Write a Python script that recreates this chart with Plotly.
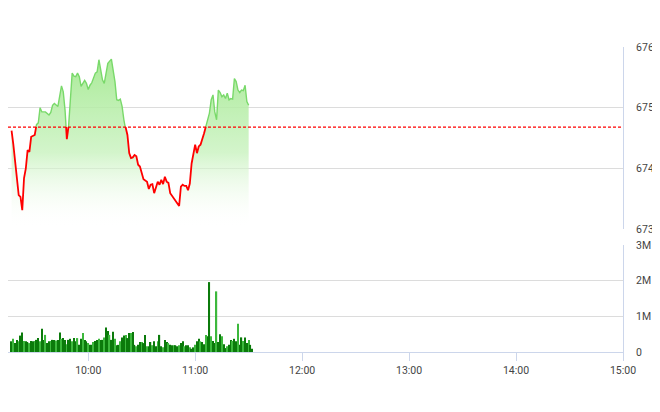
import plotly.graph_objects as go
import pandas as pd

DAY = "2024-01-02 "

# ---- price series (index value, by time) ----
price_times = [
    "09:17", "09:18", "09:21", "09:22", "09:23", "09:24", "09:25", "09:26", "09:27", "09:28",
    "09:30", "09:31", "09:32", "09:33", "09:34", "09:36", "09:37", "09:38", "09:39", "09:40",
    "09:41", "09:42", "09:43", "09:45", "09:46", "09:47", "09:48", "09:49", "09:50", "09:51",
    "09:52", "09:53", "09:54", "09:55", "09:56", "09:57", "09:58", "09:59", "10:00", "10:01",
    "10:02", "10:04", "10:05", "10:06", "10:07", "10:08", "10:09", "10:10", "10:11", "10:13",
    "10:14", "10:15", "10:16", "10:17", "10:18", "10:19", "10:20", "10:21", "10:22", "10:23",
    "10:24", "10:25", "10:26", "10:27", "10:28", "10:29", "10:30", "10:31", "10:33", "10:34",
    "10:35", "10:36", "10:37", "10:38", "10:39", "10:40", "10:41", "10:42", "10:43", "10:44",
    "10:45", "10:46", "10:48", "10:49", "10:50", "10:51", "10:52", "10:53", "10:54", "10:55",
    "10:56", "10:57", "10:58", "10:59", "11:00", "11:01", "11:02", "11:03", "11:04", "11:05",
    "11:06", "11:08", "11:09", "11:10", "11:11", "11:12", "11:13", "11:14", "11:15", "11:16",
    "11:17", "11:18", "11:19", "11:20", "11:21", "11:22", "11:23", "11:24", "11:25", "11:26",
    "11:27", "11:28", "11:29", "11:30",
]
price_values = [
    674.62, 674.39, 673.56, 673.53, 673.31, 673.84, 674.00, 674.30, 674.27, 674.52,
    674.55, 674.72, 674.75, 675.00, 674.93, 674.93, 674.91, 674.88, 674.92, 675.04,
    675.07, 675.04, 675.02, 675.36, 675.26, 674.96, 674.48, 674.70, 675.07, 675.57,
    675.52, 675.51, 675.57, 675.51, 675.35, 675.40, 675.45, 675.40, 675.30, 675.37,
    675.41, 675.57, 675.59, 675.79, 675.59, 675.46, 675.40, 675.59, 675.73, 675.80,
    675.62, 675.43, 675.13, 675.12, 675.14, 675.02, 674.80, 674.68, 674.55, 674.25,
    674.17, 674.18, 674.22, 674.20, 674.06, 674.03, 673.92, 673.82, 673.78, 673.66,
    673.73, 673.74, 673.59, 673.70, 673.78, 673.73, 673.81, 673.74, 673.86, 673.78,
    673.76, 673.59, 673.51, 673.45, 673.42, 673.38, 673.70, 673.73, 673.71, 673.71,
    673.64, 673.75, 674.08, 674.22, 674.39, 674.25, 674.36, 674.39, 674.47, 674.58,
    674.69, 674.91, 675.13, 675.21, 674.93, 674.80, 675.29, 675.25, 675.18, 675.21,
    675.15, 675.24, 675.13, 675.15, 675.14, 675.48, 675.43, 675.29, 675.25, 675.29,
    675.28, 675.37, 675.10, 675.04,
]
reference_price = 674.68

# ---- volume (millions of shares per minute, starting 09:17) ----
volume_start = "09:17"
volume_millions = [
    0.30, 0.37, 0.25, 0.34, 0.30, 0.46, 0.55, 0.31, 0.30, 0.28,
    0.25, 0.31, 0.30, 0.31, 0.34, 0.39, 0.30, 0.65, 0.34, 0.48,
    0.25, 0.30, 0.31, 0.34, 0.34, 0.32, 0.34, 0.55, 0.37, 0.39,
    0.34, 0.22, 0.34, 0.37, 0.30, 0.39, 0.30, 0.39, 0.20, 0.37,
    0.53, 0.34, 0.30, 0.25, 0.20, 0.20, 0.28, 0.31, 0.34, 0.37,
    0.34, 0.34, 0.41, 0.69, 0.59, 0.48, 0.34, 0.57, 0.37, 0.19,
    0.20, 0.30, 0.41, 0.46, 0.48, 0.39, 0.53, 0.53, 0.56, 0.20,
    0.16, 0.20, 0.28, 0.28, 0.25, 0.48, 0.16, 0.16, 0.28, 0.19,
    0.30, 0.16, 0.30, 0.48, 0.16, 0.13, 0.34, 0.28, 0.25, 0.20,
    0.19, 0.19, 0.19, 0.16, 0.19, 0.25, 0.30, 0.16, 0.19, 0.19,
    0.13, 0.09, 0.13, 0.20, 0.30, 0.37, 0.30, 0.28, 0.22, 0.48,
    0.44, 1.96, 0.44, 0.31, 0.25, 1.70, 0.28, 0.50, 0.44, 0.22,
    0.11, 0.16, 0.20, 0.34, 0.31, 0.37, 0.30, 0.79, 0.20, 0.41,
    0.31, 0.41, 0.25, 0.34, 0.20, 0.09,
]
volume_dark = [i % 3 != 1 for i in range(len(volume_millions))]

price_ticks = [673, 674, 675, 676]
volume_ticks = [0, 1e6, 2e6, 3e6]
volume_tick_text = ["0", "1M", "2M", "3M"]
hour_ticks = ["10:00", "11:00", "12:00", "13:00", "14:00", "15:00"]

# ---- layout geometry ----
price_lo, price_hi = 673, 676
price_dom = [0.4033, 1.0]
vol_dom = [0.0, 0.3508]
ref_frac = price_dom[0] + (reference_price - price_lo) / (price_hi - price_lo) * (price_dom[1] - price_dom[0])

px = [pd.Timestamp(DAY + t) for t in price_times]
vx = list(pd.date_range(DAY + volume_start, periods=len(volume_millions), freq="1min"))
vy = [v * 1e6 for v in volume_millions]

fig = go.Figure()

# gradient fill under the whole price line
fig.add_trace(go.Scatter(
    x=px, y=price_values, mode="lines", line=dict(width=0, color="rgba(0,0,0,0)"),
    fill="tozeroy",
    fillgradient=dict(type="vertical", start=price_lo, stop=675.8,
                      colorscale=[[0, "rgba(255,255,255,0.0)"],
                                  [0.45, "rgba(200,242,190,0.8)"],
                                  [1, "rgba(160,232,140,0.9)"]]),
    xaxis="x", yaxis="y", hoverinfo="skip", showlegend=False,
))

# green part of line (clipped above reference)
fig.add_trace(go.Scatter(
    x=px, y=price_values, mode="lines", line=dict(color="#79d96a", width=1.4),
    xaxis="x", yaxis="y3", showlegend=False,
))
# red part of line (clipped below reference)
fig.add_trace(go.Scatter(
    x=px, y=price_values, mode="lines", line=dict(color="#ff0000", width=1.8),
    xaxis="x", yaxis="y4", showlegend=False,
))

# volume bars
fig.add_trace(go.Bar(
    x=vx, y=vy, width=60000 * 0.7,
    marker=dict(color=["#0b7a0b" if d else "#3cb83c" for d in volume_dark], line=dict(width=0)),
    xaxis="x", yaxis="y2", showlegend=False,
))

fig.add_shape(type="line", xref="x domain", x0=0, x1=1, yref="y",
              y0=reference_price, y1=reference_price,
              line=dict(color="#ff0000", width=1.2, dash="3px,2px"))

axis_font = dict(family="Roboto, Arial, sans-serif", size=10.5, color="#444444")

fig.update_layout(
    width=652, height=404,
    margin=dict(l=0, r=37, t=39, b=60, autoexpand=False),
    paper_bgcolor="white", plot_bgcolor="rgba(0,0,0,0)",
    bargap=0.3,
    xaxis=dict(
        type="date", anchor="y2", automargin=False,
        range=[DAY + "09:15", DAY + "15:00"],
        tickvals=[DAY + h for h in hour_ticks], ticktext=hour_ticks,
        ticks="outside", ticklen=8, tickcolor="#ccd6eb",
        showline=True, linecolor="#ccd6eb", linewidth=1,
        showgrid=False, zeroline=False, tickfont=axis_font,
    ),
    yaxis=dict(
        domain=price_dom, range=[price_lo, price_hi], side="right", automargin=False,
        tickvals=price_ticks, ticks="", ticklabelstandoff=10,
        showline=True, linecolor="#ccd6eb", linewidth=1,
        showgrid=True, gridcolor="#dcdcdc", gridwidth=1, zeroline=False,
        tickfont=axis_font, anchor="x",
    ),
    yaxis2=dict(
        domain=vol_dom, range=[0, 3e6], side="right", automargin=False,
        tickvals=volume_ticks, ticktext=volume_tick_text, ticks="", ticklabelstandoff=10,
        showline=True, linecolor="#ccd6eb", linewidth=1,
        showgrid=True, gridcolor="#dcdcdc", gridwidth=1, zeroline=False,
        tickfont=axis_font, anchor="x",
    ),
    yaxis3=dict(domain=[ref_frac, price_dom[1]], range=[reference_price, price_hi],
                visible=False, anchor="x", showgrid=False, zeroline=False),
    yaxis4=dict(domain=[price_dom[0], ref_frac], range=[price_lo, reference_price],
                visible=False, anchor="x", showgrid=False, zeroline=False),
)

fig.write_html("out.html")
